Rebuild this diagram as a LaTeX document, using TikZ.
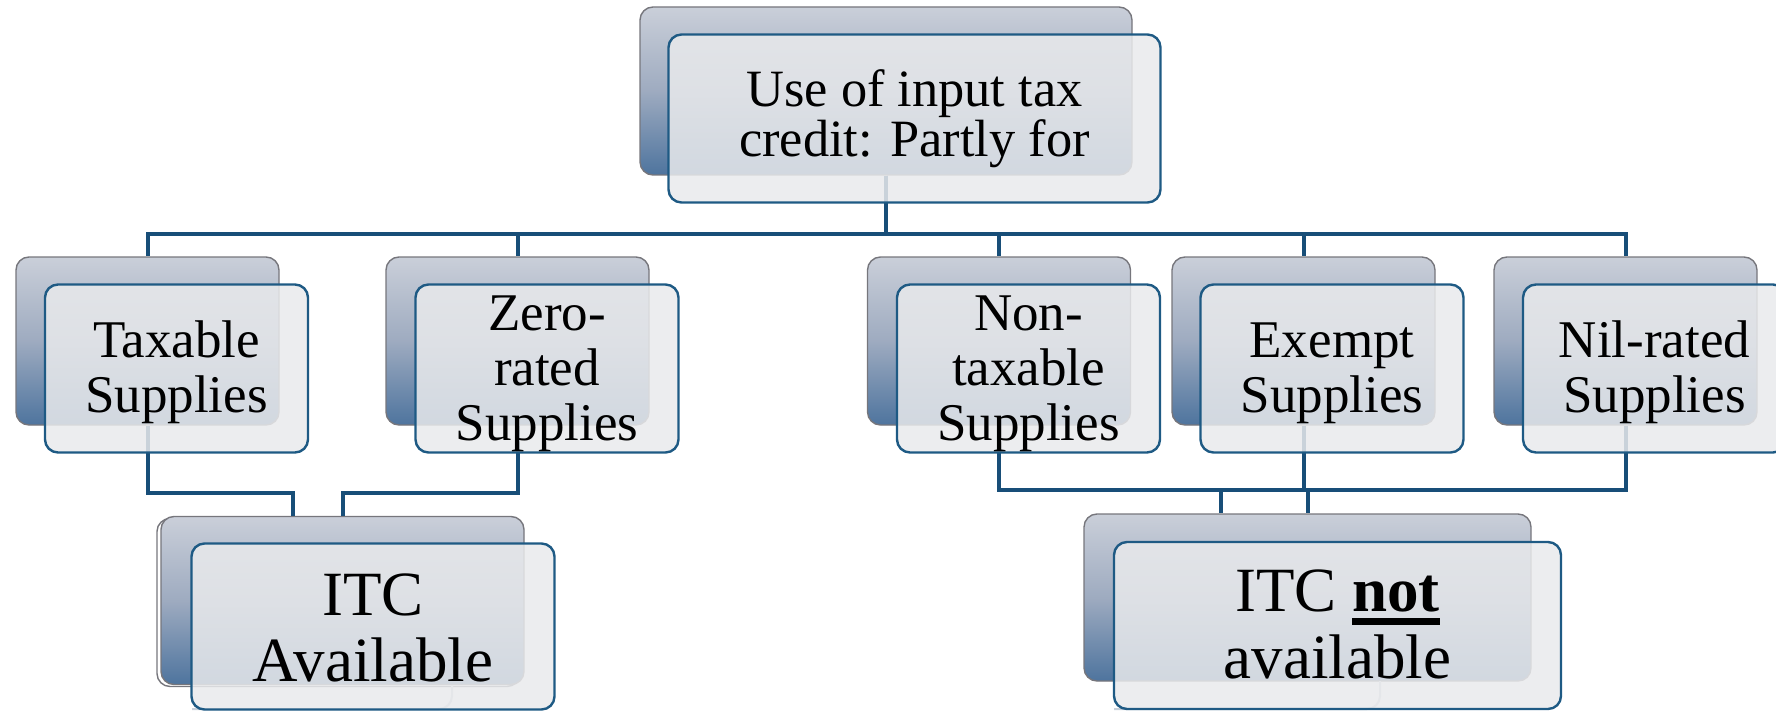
\documentclass[tikz,border=0pt]{standalone}
\usepackage{fontspec}
\setmainfont{Liberation Serif}
\usetikzlibrary{calc}
\definecolor{linecol}{RGB}{24,78,120}
\definecolor{frontborder}{RGB}{30,90,132}
\definecolor{frontfill}{RGB}{233,234,236}
\definecolor{backtop}{RGB}{202,207,217}
\definecolor{backmid}{RGB}{158,171,192}
\definecolor{backbot}{RGB}{78,116,158}
\definecolor{backborder}{RGB}{118,118,124}
\definecolor{ghostcol}{RGB}{200,208,218}
\newcommand\thickunder[1]{\sbox0{#1}\rlap{\rule[-7pt]{\wd0}{3.5pt}}\usebox0}
\begin{document}
\begin{tikzpicture}[x=0.5pt,y=-0.5pt,
  backbox/.style={rounded corners=6.5pt, draw=backborder, line width=0.7pt,
    top color=backtop, bottom color=backbot, middle color=backmid,
    inner sep=0pt, minimum height=84pt},
  ghostback/.style={rounded corners=6.5pt, draw=backborder, line width=0.7pt,
    inner sep=0pt, minimum height=84pt},
  frontbox/.style={rounded corners=6.5pt, draw=frontborder, line width=1.2pt,
    fill=frontfill, fill opacity=0.85, inner sep=0pt, minimum height=84pt},
  conn/.style={draw=linecol, line width=2pt},
  ghostline/.style={draw=ghostcol, line width=1pt, rounded corners=6.5pt},
  txt/.style={anchor=base, inner sep=0pt, text=black},
  toptxt/.style={txt, font=\fontsize{26.2pt}{25pt}\selectfont},
  lvl/.style={txt, font=\fontsize{26.5pt}{27.5pt}\selectfont},
  big/.style={txt, font=\fontsize{31.5pt}{33pt}\selectfont},
]
\useasboundingbox (0,0) rectangle (1776,711);
\clip (0,0) rectangle (1776,711);

% back boxes
\node[backbox, minimum width=246pt] (topB) at (886,91) {};
\node[backbox, minimum width=131.5pt] (taxB) at (147.5,341) {};
\node[backbox, minimum width=131.5pt] (zeroB) at (517.5,341) {};
\node[backbox, minimum width=131.5pt] (nonB) at (999,341) {};
\node[backbox, minimum width=131.5pt] (exB) at (1303.5,341) {};
\node[backbox, minimum width=131.5pt] (nilB) at (1625.5,341) {};
\node[ghostback, minimum width=181.5pt] (itcG) at (338.5,602.5) {};
\node[backbox, minimum width=181.5pt] (itcB) at (342.5,600.5) {};
\node[backbox, minimum width=223.5pt, minimum height=83.5pt] (nitcB) at (1307.5,597.5) {};

% connectors
\coordinate (bar) at (0,234);
\coordinate (ja) at (0,493);
\coordinate (jb) at (0,490);
\foreach \n in {taxB,zeroB,nonB,exB,nilB}
  \draw[conn] (topB.south) -- (topB.south |- bar) -| (\n.north);
\draw[conn] (taxB.south) -- (taxB.south |- ja) -| ($(itcB.north)+(-50,0)$);
\draw[conn] (zeroB.south) -- (zeroB.south |- ja) -| (itcB.north);
\draw[conn] (nonB.south) -- (nonB.south |- jb) -| ($(nitcB.north)+(-87,0)$);
\draw[conn] (exB.south) -- (exB.south |- jb) -| ($(nitcB.north)+(-87,0)$);
\draw[conn] (nilB.south) -- (nilB.south |- jb) -| (nitcB.north);

% ghost remnants
\draw[ghostline] (452,685) -- (452,709) -- (192,709);
\draw[ghostline] (1380,681) -- (1380,709) -- (1114,709);

% front boxes
\node[frontbox, minimum width=246pt] (top) at (914.5,118.5) {};
\node[frontbox, minimum width=131.5pt] (tax) at (176.5,368.5) {};
\node[frontbox, minimum width=131.5pt] (zero) at (547,368.5) {};
\node[frontbox, minimum width=131.5pt] (non) at (1028.5,368.5) {};
\node[frontbox, minimum width=131.5pt] (ex) at (1332,368.5) {};
\node[frontbox, minimum width=131.5pt] (nil) at (1654.5,368.5) {};
\node[frontbox, minimum width=181.5pt, minimum height=83pt] (itc) at (373,626.5) {};
\node[frontbox, minimum width=223.5pt, minimum height=83.5pt] (nitc) at (1337.5,625.5) {};

% texts
\node[toptxt] (topL1) at (top |- 0,107) {Use of input tax};
\node[toptxt] (topL2) at (top |- 0,157) {credit: Partly for};
\node[lvl] (taxL1) at (tax |- 0,357) {Taxable};
\node[lvl] (taxL2) at (tax |- 0,412) {Supplies};
\node[lvl] (zeroL1) at (zero |- 0,330) {Zero-};
\node[lvl] (zeroL2) at (zero |- 0,385) {rated};
\node[lvl] (zeroL3) at (zero |- 0,440) {Supplies};
\node[lvl] (nonL1) at (non |- 0,330) {Non-};
\node[lvl] (nonL2) at (non |- 0,385) {taxable};
\node[lvl] (nonL3) at (non |- 0,440) {Supplies};
\node[lvl] (exL1) at (ex |- 0,357) {Exempt};
\node[lvl] (exL2) at (ex |- 0,412) {Supplies};
\node[lvl] (nilL1) at (nil |- 0,357) {Nil-rated};
\node[lvl] (nilL2) at (nil |- 0,412) {Supplies};
\node[big] (itcL1) at (itc |- 0,615) {ITC};
\node[big] (itcL2) at (itc |- 0,681) {Available};
\node[big] (nitcL1) at (nitc |- 0,611) {ITC \thickunder{\textbf{not}}};
\node[big] (nitcL2) at (nitc |- 0,678) {available};
\end{tikzpicture}
\end{document}
